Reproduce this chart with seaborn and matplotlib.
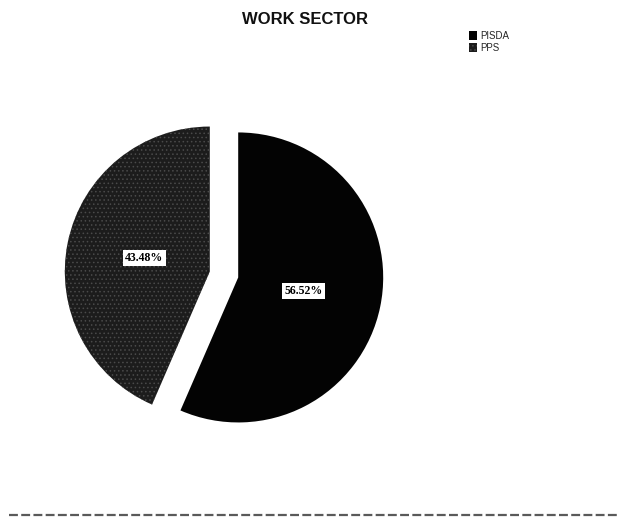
import matplotlib
matplotlib.use("Agg")
import matplotlib.pyplot as plt
from matplotlib.lines import Line2D
import seaborn as sns

# Work sector shares
sectors = ["PISDA", "PPS"]
shares = [56.52, 43.48]
title = "WORK SECTOR"

sns.set_theme(style="white")
plt.rcParams["font.family"] = ["Liberation Sans", "DejaVu Sans"]
plt.rcParams["hatch.linewidth"] = 0.6

colors = ["#030303", "#1c1c1c"]

W, H = 623, 525
fig = plt.figure(figsize=(W / 100, H / 100), dpi=100)
fig.patch.set_facecolor("white")

# Pie axes: centre ~ (224, 274) px, radius ~145 px
lim = 1.25
r_px = 145
size = 2 * lim * r_px
cx, cy = 224, H - 274.5
ax = fig.add_axes([(cx - size / 2) / W, (cy - size / 2) / H, size / W, size / H])

wedges, texts, autotexts = ax.pie(
    shares,
    colors=colors,
    startangle=90,
    counterclock=False,
    explode=[0.1, 0.1],
    autopct=lambda p: f"{p:.2f}%",
    pctdistance=0.46,
    wedgeprops=dict(linewidth=0),
    textprops=dict(family=["Liberation Serif", "DejaVu Serif"], fontsize=8.5,
                   fontweight="bold", color="black"),
)
wedges[1].set_hatch("....")
wedges[1].set_edgecolor("#4a4a4a")
wedges[1].set_linewidth(0)

for t in autotexts:
    t.set_bbox(dict(facecolor="white", edgecolor="none", pad=1.8))

ax.set_xlim(-lim, lim)
ax.set_ylim(-lim, lim)
ax.set_aspect("equal")
ax.axis("off")

fig.text(305 / W, 1 - 19 / H, title, ha="center", va="center",
         fontsize=12, fontweight="bold", color="#111111")

fig.legend(wedges, sectors, loc="upper left",
           bbox_to_anchor=(469 / W, 1 - 31 / H), frameon=False,
           fontsize=7, handlelength=0.8, handleheight=1.1,
           handletextpad=0.4, labelspacing=0.2,
           borderpad=0, borderaxespad=0)

# thin rule along the bottom of the page
fig.add_artist(Line2D([0.015, 0.99], [1 - 515 / H] * 2,
                      color="#5a5a5a", lw=1.6, ls=(0, (4, 1.5))))

fig.savefig("out.png", dpi=100, facecolor="white")
